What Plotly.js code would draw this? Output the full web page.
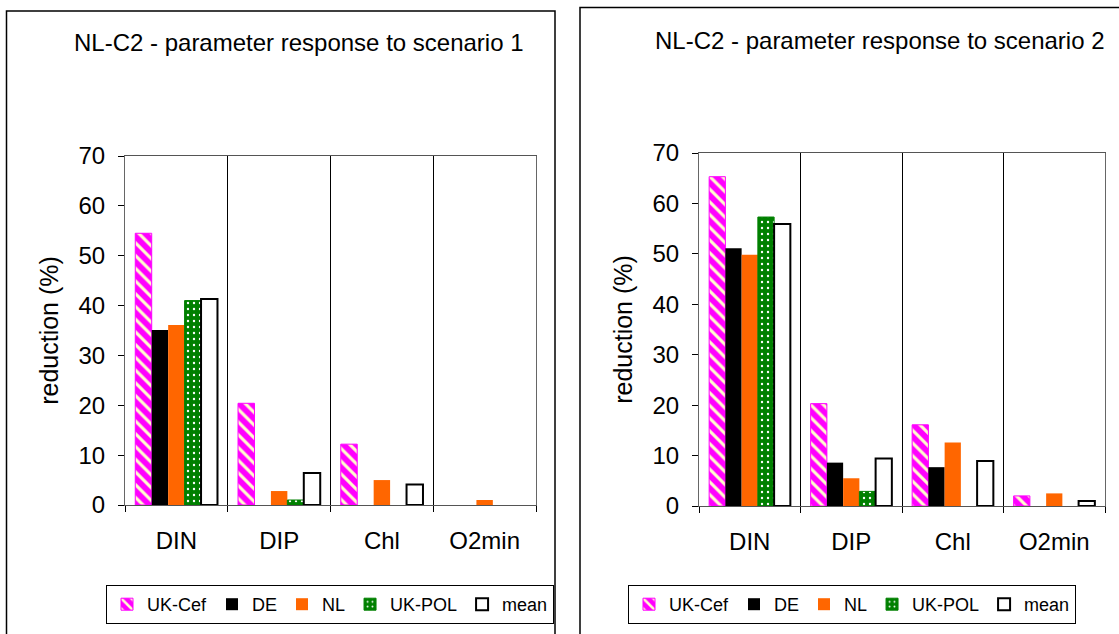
<!DOCTYPE html>
<html>
<head>
<meta charset="utf-8">
<script src="https://cdn.plot.ly/plotly-3.0.1.min.js"></script>
<style>
html,body{margin:0;padding:0;background:#fff;}
#chart{width:1119px;height:634px;}
</style>
</head>
<body>
<div id="chart"></div>
<script>
// ---- data ----
const categories = ['DIN', 'DIP', 'Chl', 'O2min'];
const seriesNames = ['UK-Cef', 'DE', 'NL', 'UK-POL', 'mean'];

const titles = ['NL-C2 - parameter response to scenario 1', 'NL-C2 - parameter response to scenario 2'];
const yTitle = 'reduction (%)';
const yTicks = [0, 10, 20, 30, 40, 50, 60, 70];

// scenario 1
const s1_ukcef = [54.5, 20.4, 12.2, null];
const s1_de    = [35.1, null, null, null];
const s1_nl    = [36.1, 2.8, 5.0, 1.0];
const s1_ukpol = [41.0, 1.0, null, null];
const s1_mean  = [41.3, 6.4, 4.1, null];

// scenario 2
const s2_ukcef = [65.3, 20.3, 16.1, 2.0];
const s2_de    = [51.1, 8.6, 7.7, null];
const s2_nl    = [49.8, 5.5, 12.6, 2.5];
const s2_ukpol = [57.3, 2.9, null, null];
const s2_mean  = [55.9, 9.4, 8.9, 1.0];

// ---- styles ----
const FONT = '"Liberation Sans", Arial, sans-serif';
const markerStyles = [
  {color: '#ff00ff', line: {color: '#ff00ff', width: 1},
   pattern: {shape: '\\', fgcolor: '#ffffcc', bgcolor: '#ff00ff', size: 9, solidity: 0.35, fillmode: 'replace'}},
  {color: '#000000', line: {color: '#000000', width: 0}},
  {color: '#ff6600', line: {color: '#ff6600', width: 0}},
  {color: '#008000', line: {color: '#008000', width: 1},
   pattern: {shape: '.', fgcolor: '#ffffff', bgcolor: '#008000', size: 6, solidity: 0.12, fillmode: 'replace'}},
  {color: '#ffffff', line: {color: '#000000', width: 2}}
];

const scen = [
  [s1_ukcef, s1_de, s1_nl, s1_ukpol, s1_mean],
  [s2_ukcef, s2_de, s2_nl, s2_ukpol, s2_mean]
];

const traces = [];
scen.forEach((vals, si) => {
  vals.forEach((v, k) => {
    traces.push({
      type: 'bar',
      name: seriesNames[k],
      x: categories,
      y: v,
      xaxis: si === 0 ? 'x' : 'x2',
      yaxis: si === 0 ? 'y' : 'y2',
      legend: si === 0 ? 'legend' : 'legend2',
      marker: markerStyles[k],
      hoverinfo: 'x+y+name'
    });
  });
});

const W = 1119, H = 634;
const px = v => v / W;
const py = v => 1 - v / H;

function xax(domain) {
  return {
    domain: domain,
    type: 'category',
    tickson: 'boundaries',
    ticks: 'outside', ticklen: 6, tickcolor: '#000', tickwidth: 1,
    ticklabelstandoff: 14,
    showgrid: true, gridcolor: '#000', gridwidth: 1,
    showline: true, linecolor: '#555', linewidth: 1, mirror: true,
    tickfont: {family: FONT, size: 24, color: '#000'},
    zeroline: false, fixedrange: true
  };
}
function yax(domain, anchor) {
  return {
    domain: domain,
    anchor: anchor,
    range: [0, 70],
    tickvals: yTicks,
    ticks: 'outside', ticklen: 6, tickcolor: '#000', tickwidth: 1,
    ticklabelstandoff: 8,
    showgrid: false, zeroline: false,
    showline: true, linecolor: '#666', linewidth: 1, mirror: true,
    tickfont: {family: FONT, size: 24, color: '#000'},
    title: {text: yTitle, font: {family: FONT, size: 25, color: '#000'}, standoff: 12},
    fixedrange: true
  };
}

const legendBase = {
  orientation: 'h',
  xanchor: 'center', yanchor: 'top',
  bgcolor: '#fff', bordercolor: '#000', borderwidth: 1,
  font: {family: FONT, size: 18, color: '#000'},
  itemwidth: 30,
  traceorder: 'normal'
};

const layout = {
  width: W, height: H,
  margin: {l: 0, r: 0, t: 0, b: 0},
  paper_bgcolor: '#fff', plot_bgcolor: '#fff',
  font: {family: FONT, color: '#000'},
  barmode: 'group',
  bargap: 0.2, bargroupgap: 0,
  xaxis: Object.assign(xax([px(125), px(536)]), {anchor: 'y'}),
  yaxis: yax([py(505), py(156)], 'x'),
  xaxis2: Object.assign(xax([px(699), px(1105)]), {anchor: 'y2'}),
  yaxis2: yax([py(506), py(153)], 'x2'),
  legend: Object.assign({}, legendBase, {x: px(330), y: py(585)}),
  legend2: Object.assign({}, legendBase, {x: px(852), y: py(585)}),
  annotations: [
    {text: titles[0], xref: 'paper', yref: 'paper', x: px(299), y: py(42),
     xanchor: 'center', yanchor: 'middle', showarrow: false,
     font: {family: FONT, size: 24, color: '#000'}},
    {text: titles[1], xref: 'paper', yref: 'paper', x: px(880), y: py(40),
     xanchor: 'center', yanchor: 'middle', showarrow: false,
     font: {family: FONT, size: 24, color: '#000'}}
  ],
  shapes: [
    {type: 'rect', xref: 'paper', yref: 'paper',
     x0: px(6.5), x1: px(555), y0: -0.1, y1: py(11),
     line: {color: '#000', width: 1.5}, fillcolor: 'rgba(0,0,0,0)', layer: 'below'},
    {type: 'rect', xref: 'paper', yref: 'paper',
     x0: px(580), x1: 1.1, y0: -0.1, y1: py(7.5),
     line: {color: '#000', width: 1.5}, fillcolor: 'rgba(0,0,0,0)', layer: 'below'}
  ],
  showlegend: true
};

Plotly.newPlot('chart', traces, layout, {displayModeBar: false});
</script>
</body>
</html>
